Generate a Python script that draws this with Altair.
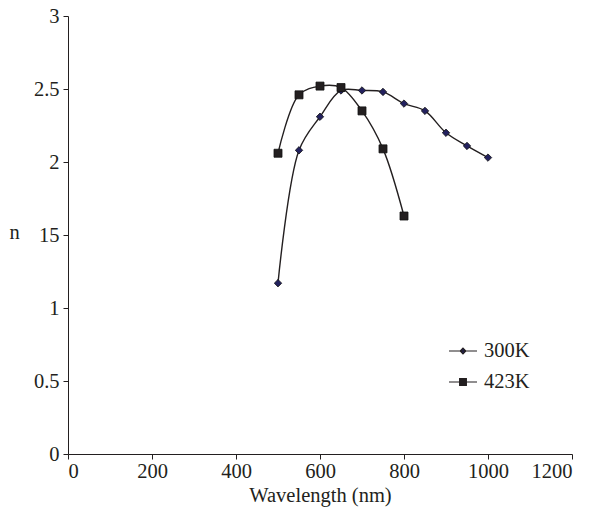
import altair as alt
import pandas as pd

series_names = ["300K", "423K"]
wl_300 = [500, 550, 600, 650, 700, 750, 800, 850, 900, 950, 1000]
n_300 = [1.17, 2.08, 2.31, 2.49, 2.49, 2.48, 2.40, 2.35, 2.20, 2.11, 2.03]
wl_423 = [500, 550, 600, 650, 700, 750, 800]
n_423 = [2.06, 2.46, 2.52, 2.51, 2.35, 2.09, 1.63]
x_ticks = [0, 200, 400, 600, 800, 1000, 1200]
y_ticks = [0, 0.5, 1, 1.5, 2, 2.5, 3]

df = pd.concat([
    pd.DataFrame({"wl": wl_300, "n": n_300, "series": "300K"}),
    pd.DataFrame({"wl": wl_423, "n": n_423, "series": "423K"}),
])

FONT = "Liberation Serif"
FS = 20.5
INK = "#231f20"
marker_fill = ["#23215e", "#231f20"]
marker_shapes = ["diamond", "square"]
legend_shapes = [
    "M-1,0H1M0,-0.2L0.2,0L0,0.2L-0.2,0Z",
    "M-1,0H1M-0.24,-0.24H0.24V0.24H-0.24Z",
]

x_enc = alt.X("wl:Q", scale=alt.Scale(domain=[0, 1200], nice=False),
              axis=alt.Axis(values=x_ticks, format="d", title="Wavelength (nm)", grid=False,
                            labelFont=FONT, labelFontSize=FS, titleFont=FONT,
                            titleFontSize=FS, titleFontWeight="normal",
                            labelColor=INK, titleColor=INK,
                            domainColor=INK, tickColor=INK,
                            tickSize=5, labelPadding=2, titlePadding=4))
y_enc = alt.Y("n:Q", scale=alt.Scale(domain=[0, 3], nice=False),
              axis=alt.Axis(values=y_ticks, format="~g", title="n", grid=False,
                            labelExpr="datum.value == 1.5 ? '15' : datum.label",
                            labelFont=FONT, labelFontSize=FS, titleFont=FONT,
                            titleFontSize=FS, titleFontWeight="normal",
                            titleAngle=0, titleX=-54, titleY=216,
                            titleAlign="center", titleBaseline="middle",
                            labelColor=INK, titleColor=INK,
                            domainColor=INK, tickColor=INK,
                            tickSize=5, labelPadding=4))

base = alt.Chart(df)

lines = base.mark_line(interpolate="catmull-rom", color=INK, strokeWidth=1.4).encode(
    x=x_enc, y=y_enc, detail="series:N")

points = base.mark_point(filled=True, opacity=1, stroke="#111111", strokeWidth=0.8).encode(
    x="wl:Q", y="n:Q",
    shape=alt.Shape("series:N", scale=alt.Scale(domain=series_names, range=marker_shapes), legend=None),
    fill=alt.Fill("series:N", scale=alt.Scale(domain=series_names, range=marker_fill), legend=None),
    size=alt.Size("series:N", scale=alt.Scale(domain=series_names, range=[55, 64]), legend=None),
)

def leg():
    return alt.Legend(
        title=None, orient="none", legendX=380, legendY=320,
        labelFont=FONT, labelFontSize=FS, labelColor=INK,
        symbolSize=784, symbolStrokeWidth=1.2, symbolOpacity=1,
        labelOffset=6, rowPadding=5,
    )

legend_layer = base.transform_filter("false").mark_point(
    filled=True, opacity=1, strokeWidth=1.2).encode(
    x="wl:Q", y="n:Q",
    shape=alt.Shape("series:N", scale=alt.Scale(domain=series_names, range=legend_shapes), legend=leg()),
    fill=alt.Fill("series:N", scale=alt.Scale(domain=series_names, range=marker_fill), legend=leg()),
    stroke=alt.Stroke("series:N", scale=alt.Scale(domain=series_names, range=[INK, INK]), legend=leg()),
)

chart = alt.layer(lines, points, legend_layer).resolve_scale(
    shape="independent", fill="independent", stroke="independent"
).properties(
    width=504, height=438,
    padding={"left": 68, "top": 16, "right": 20, "bottom": 59},
    autosize=alt.AutoSizeParams(type="none"),
    background="white",
).configure_view(stroke=None)

chart.save("out.html", embed_options={"renderer": "svg", "actions": False})
